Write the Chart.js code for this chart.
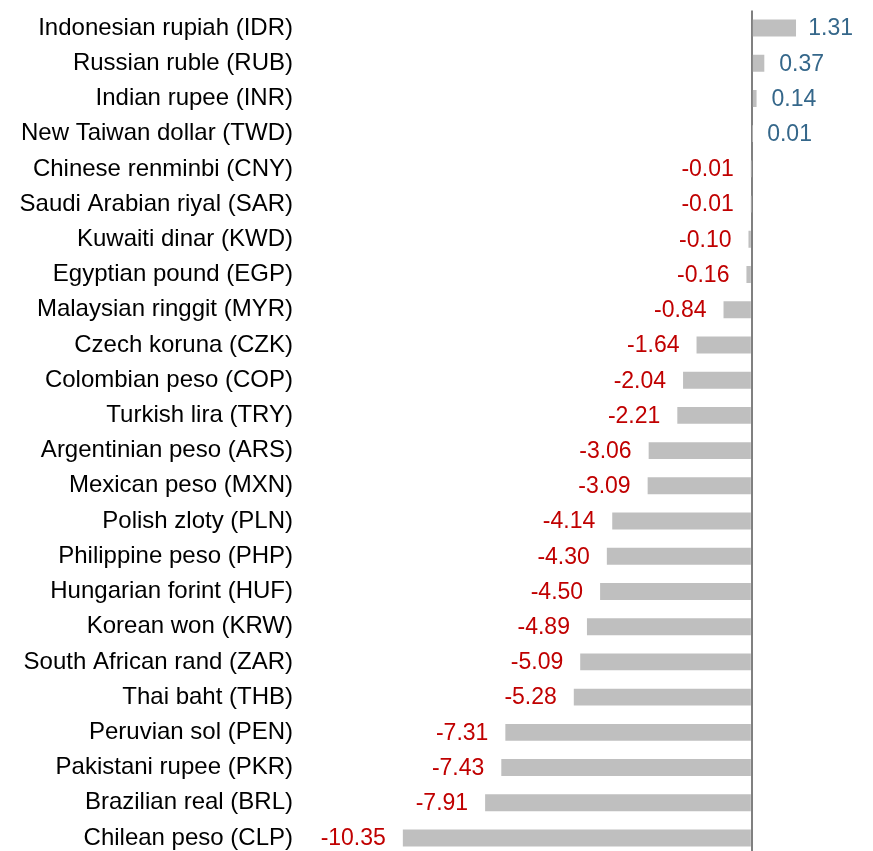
<!DOCTYPE html>
<html><head><meta charset="utf-8">
<script src="https://cdn.jsdelivr.net/npm/chart.js@4/dist/chart.umd.min.js"></script>
<style>html,body{margin:0;padding:0;overflow:hidden;background:#fff}#wrap{width:873px;height:858px;position:relative}</style>
</head><body><div id="wrap"><canvas id="c"></canvas></div>
<script>
const categories = [
  "Indonesian rupiah (IDR)", "Russian ruble (RUB)", "Indian rupee (INR)", "New Taiwan dollar (TWD)",
  "Chinese renminbi (CNY)", "Saudi Arabian riyal (SAR)", "Kuwaiti dinar (KWD)", "Egyptian pound (EGP)",
  "Malaysian ringgit (MYR)", "Czech koruna (CZK)", "Colombian peso (COP)", "Turkish lira (TRY)",
  "Argentinian peso (ARS)", "Mexican peso (MXN)", "Polish zloty (PLN)", "Philippine peso (PHP)",
  "Hungarian forint (HUF)", "Korean won (KRW)", "South African rand (ZAR)", "Thai baht (THB)",
  "Peruvian sol (PEN)", "Pakistani rupee (PKR)", "Brazilian real (BRL)", "Chilean peso (CLP)"
];
const values = [
  1.31, 0.37, 0.14, 0.01,
  -0.01, -0.01, -0.10, -0.16,
  -0.84, -1.64, -2.04, -2.21,
  -3.06, -3.09, -4.14, -4.30,
  -4.50, -4.89, -5.09, -5.28,
  -7.31, -7.43, -7.91, -10.35
];
const xMin = -13.4, xMax = 3.0;

const FONT = '"Liberation Sans", Arial, sans-serif';
const valueLabels = {
  id: 'valueLabels',
  afterDatasetsDraw(chart) {
    const ctx = chart.ctx;
    const meta = chart.getDatasetMeta(0);
    const area = chart.chartArea;
    ctx.save();
    ctx.font = '23px ' + FONT;
    ctx.textBaseline = 'middle';
    meta.data.forEach((bar, i) => {
      const v = values[i];
      const txt = v.toFixed(2);
      if (v >= 0) {
        ctx.fillStyle = '#35678a';
        ctx.textAlign = 'left';
        const w = ctx.measureText(txt).width;
        let x = bar.x + 15;
        if (x + w > area.right) x = area.right - w;
        ctx.fillText(txt, x, bar.y + 1);
      } else {
        ctx.fillStyle = '#c00000';
        ctx.textAlign = 'right';
        ctx.fillText(txt, Math.min(bar.x, bar.base) - 17, bar.y + 1);
      }
    });
    ctx.restore();
  }
};

new Chart(document.getElementById('c'), {
  type: 'bar',
  data: {
    labels: categories,
    datasets: [{
      data: values,
      backgroundColor: '#bfbfbf',
      borderWidth: 0,
      barPercentage: 0.48,
      categoryPercentage: 1.0
    }]
  },
  options: {
    indexAxis: 'y',
    responsive: true,
    maintainAspectRatio: false,
    animation: false,
    layout: { padding: { top: 10.4, bottom: 2.4, left: 0, right: 20 } },
    plugins: { legend: { display: false }, tooltip: { enabled: false } },
    scales: {
      x: {
        min: xMin, max: xMax,
        afterFit: (s) => { s.height = 0; s.paddingLeft = 0; s.paddingRight = 0; },
        ticks: { display: false, stepSize: 1 },
        border: { display: false },
        grid: {
          drawTicks: false,
          lineWidth: 2,
          color: (c) => (c.tick && c.tick.value === 0) ? '#808080' : 'rgba(0,0,0,0)'
        }
      },
      y: {
        afterFit: (s) => { s.width = 300; s.paddingTop = 0; s.paddingBottom = 0; },
        ticks: { color: '#000000', padding: 7, font: { size: 24, family: FONT } },
        border: { display: false },
        grid: { display: false, drawTicks: false }
      }
    }
  },
  plugins: [valueLabels]
});
</script></body></html>
